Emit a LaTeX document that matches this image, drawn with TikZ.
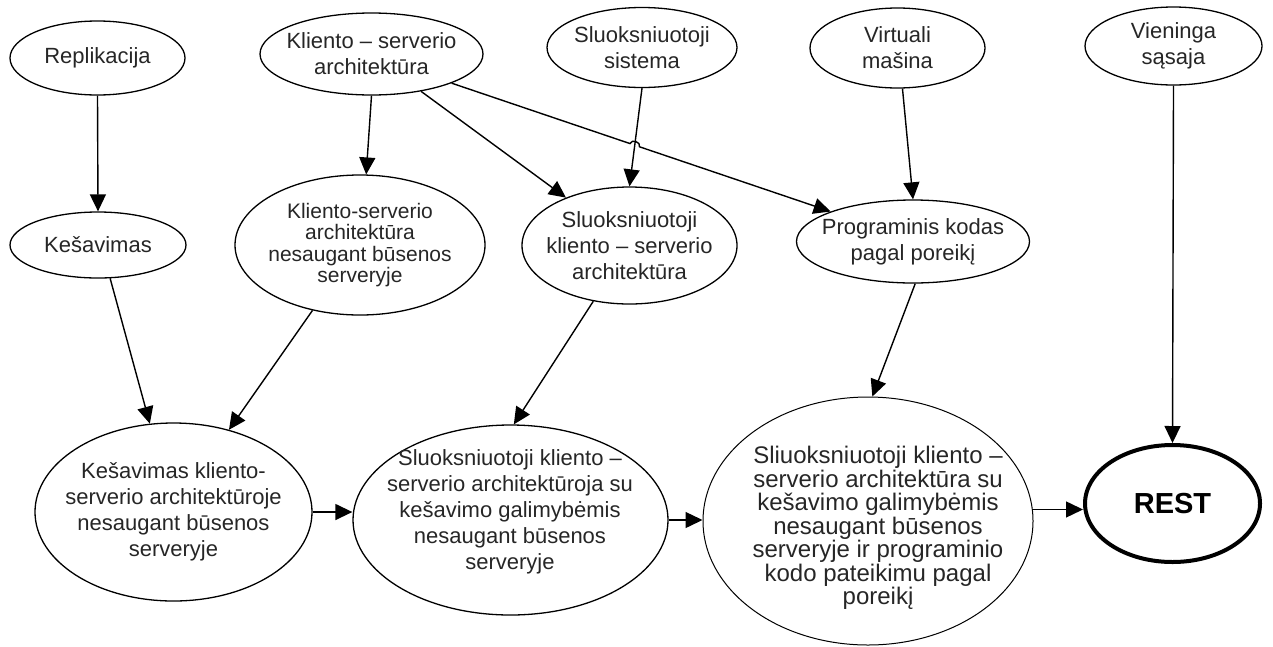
\documentclass[tikz,border=0pt]{standalone}
\usepackage{fontspec}
\setmainfont{Liberation Sans}
\usetikzlibrary{shapes.geometric, arrows.meta, calc, intersections}

\begin{document}
\begin{tikzpicture}[x=1pt, y=1pt,
  ell/.style={draw, ellipse, line width=1.3pt, inner sep=0pt},
  txt/.style={align=center, inner sep=0pt, text=black!85, font=\fontsize{22}{26}\selectfont},
  arr/.style={line width=1.4pt, -{Triangle[length=17pt, width=16pt]}},
]
\useasboundingbox (0,0) rectangle (1273,-646);

% ---- outlines ----
\node[ell, minimum width=175pt, minimum height=74pt]  (n1)  at (97.5,-58)   {};
\node[ell, minimum width=223pt, minimum height=82pt]  (n2)  at (371.5,-54)  {};
\node[ell, minimum width=190pt, minimum height=80pt]  (n3)  at (642,-47.5)  {};
\node[ell, minimum width=175pt, minimum height=80pt]  (n4)  at (897.5,-48)  {};
\node[ell, minimum width=177pt, minimum height=78pt]  (n5)  at (1173.5,-46) {};
\node[ell, minimum width=176pt, minimum height=66pt]  (n6)  at (98,-245)    {};
\node[ell, minimum width=250pt, minimum height=140pt] (n7)  at (360,-245)   {};
\node[ell, minimum width=215pt, minimum height=117pt] (n8)  at (629.5,-245.5) {};
\node[ell, minimum width=233pt, minimum height=83pt]  (n9)  at (913,-241.5) {};
\node[ell, minimum width=277pt, minimum height=178pt] (n10) at (173.5,-512) {};
\node[ell, minimum width=315pt, minimum height=190pt] (n11) at (510.5,-520) {};
\node[ell, line width=1pt, minimum width=330pt, minimum height=248pt] (n12) at (868,-521) {};
\node[ell, line width=4pt, minimum width=175pt, minimum height=117pt] (n13) at (1172.5,-503.5) {};

% ---- texts ----
\node[txt] (t1) at (n1) {Replikacija};
\node[txt] (t2) at (n2) {Kliento – serverio\\architektūra};
\node[txt] (t3) at (n3) {Sluoksniuotoji\\sistema};
\node[txt] (t4) at (n4) {Virtuali\\mašina};
\node[txt] (t5) at (n5) {Vieninga\\sąsaja};
\node[txt] (t6) at (n6) {Kešavimas};
\node[txt, font=\fontsize{21}{21.5}\selectfont] (t7) at (n7)
  {Kliento-serverio\\architektūra\\nesaugant būsenos\\serveryje};
\node[txt] (t8) at (n8) {Sluoksniuotoji\\kliento – serverio\\architektūra};
\node[txt] (t9) at (n9) {Programinis kodas\\pagal poreikį};
\node[txt] (t10) at (n10)
  {Kešavimas kliento-\\serverio architektūroje\\nesaugant būsenos\\serveryje};
\node[txt] (t11) at (510,-512)
  {Sluoksniuotoji kliento –\\serverio architektūroja su\\kešavimo galimybėmis\\nesaugant būsenos\\serveryje};
\node[txt, font=\fontsize{24}{23.5}\selectfont] (t12) at (878,-528)
  {Sliuoksniuotoji kliento –\\serverio architektūra su\\kešavimo galimybėmis\\nesaugant būsenos\\serveryje ir programinio\\kodo pateikimu pagal\\poreikį};
\node[txt, text=black, font=\fontsize{29}{32}\selectfont\bfseries] (t13) at (n13) {REST};

% ---- connectors ----
\draw[arr] (n1.south) -- (n6.north);
\draw[arr] (n2.south) -- (n7.85);
\draw[arr] (n2.-37) -- (n8.143);
\draw[arr] (n3.south) -- (n8.north);
\draw[arr] (n4.-83) -- (n9.north);
\draw[arr] (n5.south) -- (n13.north);

% long connector with a small hop where it crosses the n3 -> n8 line
\path[name path=longA] (n2.-20) -- (n9.160);
\path[name path=sideB] (n3.south) -- (n8.north);
\path[name intersections={of=longA and sideB, by=cx}];
\draw[arr] (n2.-20) -- ($(cx)!5pt!(n2.-20)$)
  to[bend left=90, looseness=1.3] ($(cx)!5pt!(n9.160)$) -- (n9.160);

\draw[arr] (n6.-70) -- (n10.105);
\draw[arr] (n7.-126) -- (n10.56);
\draw[arr] (n8.-123) -- (n11.88);
\draw[arr] (n9.-87) -- (n12.88);

\draw[arr] (n10.east) -- (n10.east -| n11.west);
\draw[arr] (n11.east) -- (n11.east -| n12.west);
\draw[arr] (n12.4) -- (n12.4 -| n13.west);
\end{tikzpicture}
\end{document}
